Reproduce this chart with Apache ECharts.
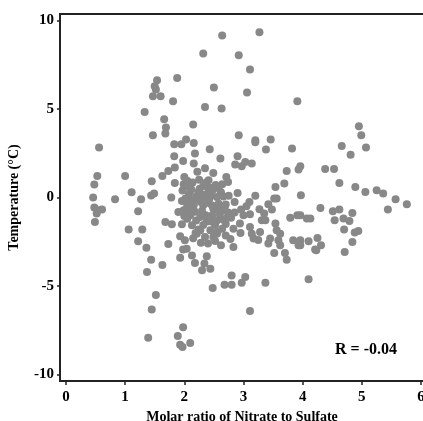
<!DOCTYPE html>
<html>
<head>
<meta charset="utf-8">
<script src="https://cdn.jsdelivr.net/npm/echarts@6/dist/echarts.min.js"></script>
<style>
html, body { margin: 0; padding: 0; background: #fff; }
#main { width: 423px; height: 421px; }
</style>
</head>
<body>
<div id="main"></div>
<script>
// molar ratio of nitrate to sulfate (x) and temperature in degC (y)
var ratio = [
	2.64, 3.27, 2.32, 2.92, 3.11, 1.54, 1.88, 2.50, 3.06, 3.91, 1.50, 1.52, 1.47, 1.60, 1.81, 2.35, 2.63, 1.33, 1.66, 2.15,
	1.69, 1.68, 1.47, 2.03, 2.92, 3.20, 3.46, 4.95, 4.99, 0.56, 1.83, 1.95, 1.83, 1.98, 1.84, 1.73, 1.63, 0.53, 1.00, 1.45,
	1.84, 1.99, 0.48, 1.11, 1.49, 1.44, 0.46, 0.83, 1.27, 1.78, 0.48, 0.54, 0.61, 0.52, 1.22, 0.49, 1.90, 1.99, 1.68, 1.79,
	1.06, 1.29, 1.93, 1.22, 1.36, 1.73, 1.98, 1.44, 1.63, 1.37, 1.93, 1.52, 1.45, 1.98, 1.89, 1.39, 1.93, 1.97, 2.10, 2.13,
	2.18, 2.38, 2.34, 2.30, 2.44, 3.52, 3.70, 3.73, 2.80, 2.68, 2.80, 2.48, 3.03, 2.97, 3.37, 4.10, 3.11, 4.23, 4.71, 4.66,
	5.07, 4.81, 3.96, 4.38, 4.53, 4.62, 4.89, 5.06, 5.25, 5.36, 5.57, 5.76, 5.44, 3.97, 4.30, 4.51, 4.62, 4.84, 3.96, 4.13,
	4.54, 4.69, 4.79, 4.70, 4.88, 4.94, 3.96, 4.10, 4.25, 4.31, 4.21, 4.84, 3.96, 3.20, 3.38, 3.82, 2.43, 2.16, 2.18, 2.16,
	2.61, 2.90, 2.86, 3.03, 3.14, 2.97, 3.73, 3.93, 2.49, 2.00, 2.71, 2.74, 2.41, 2.64, 3.69, 3.54, 2.05, 2.24, 2.49, 2.35,
	2.55, 3.10, 3.52, 3.56, 3.42, 3.27, 2.96, 3.11, 3.48, 1.96, 2.01, 2.16, 2.32, 2.49, 2.64, 2.10, 2.27, 2.47, 2.72, 2.79,
	2.94, 3.31, 3.37, 3.54, 3.79, 3.91, 4.07, 1.96, 2.13, 2.27, 2.44, 2.64, 2.83, 3.11, 3.14, 3.28, 3.56, 3.62, 2.01, 2.21,
	2.35, 2.49, 2.62, 2.83, 3.17, 3.45, 3.42, 3.59, 3.62, 3.84, 3.93, 2.04, 2.08, 2.12, 2.20, 2.28, 2.40, 2.45, 2.58, 2.70,
	2.75, 2.85, 2.90, 2.05, 2.18, 2.30, 2.38, 2.55, 2.60, 2.85, 2.20, 2.32, 2.52, 2.70, 2.15, 2.28, 2.40, 2.55, 2.70, 2.05,
	2.25, 2.32, 2.58, 2.22, 2.35, 2.05, 2.42, 2.62, 2.12, 2.52, 2.78, 2.95, 3.00, 3.05, 3.20, 3.25, 3.35, 1.97, 2.02, 2.07,
	2.14, 2.22, 2.26, 2.33, 2.37, 2.43, 2.47, 2.53, 2.57, 2.66, 2.68, 2.74, 2.00, 2.10, 2.24, 2.36, 2.46, 2.56, 2.66, 2.19,
	2.41
];
var temp = [
	9.15, 9.33, 8.13, 8.03, 7.23, 6.62, 6.75, 6.21, 5.93, 5.43, 6.28, 6.10, 5.72, 5.72, 5.43, 5.11, 5.02, 4.83, 4.42, 4.12,
	3.95, 3.61, 3.51, 3.27, 3.51, 3.23, 3.27, 4.02, 3.51, 2.82, 3.00, 3.00, 2.33, 2.06, 1.69, 1.50, 1.21, 1.21, 1.21, 0.92,
	0.82, 0.75, 0.73, 0.29, 0.22, 0.11, 0.00, -0.10, -0.10, 0.00, -0.57, -0.72, -0.68, -0.91, -0.78, -1.38, -0.82, -0.72, -1.38, -1.51,
	-1.80, -1.80, -2.19, -2.47, -2.83, -2.63, -2.94, -3.51, -3.81, -4.21, -3.40, -5.51, -6.32, -7.32, -7.82, -7.92, -8.31, -8.44, -8.22, -3.27,
	-3.70, -3.32, -3.73, -4.11, -4.02, -3.14, -3.14, -3.51, -4.40, -4.92, -4.92, -5.11, -4.49, -4.81, -4.81, -4.62, -6.41, -2.98, -3.08, 2.91,
	2.82, 2.42, 1.76, 1.61, 1.61, 0.82, 0.59, 0.31, 0.41, 0.22, -0.10, -0.38, -0.68, 0.12, -0.59, -0.78, -0.68, -0.87, -1.00, -1.19,
	-1.29, -1.19, -1.33, -1.80, -1.98, -1.89, -2.42, -2.47, -2.29, -2.70, -2.93, -2.51, -2.70, 3.12, 2.71, 2.76, 2.72, 3.08, 2.48, 1.92,
	2.20, 2.33, 1.86, 2.01, 1.92, 1.76, 1.50, 1.58, 1.38, 1.16, 1.16, 0.88, 0.97, 0.75, 0.79, 0.59, 0.69, 0.31, 0.45, 0.03,
	0.03, -0.25, -0.06, -0.06, -0.38, -0.67, -0.68, -0.95, -0.68, -0.20, -0.72, -0.44, -0.44, -0.63, -0.72, -1.00, -1.10, -1.00, -1.14, -1.14,
	-1.47, -1.29, -1.29, -1.47, -1.14, -1.00, -1.19, -1.51, -1.57, -1.85, -1.85, -1.76, -1.76, -1.66, -2.04, -1.95, -1.85, -2.04, -2.42, -2.04,
	-2.23, -2.23, -2.70, -2.80, -2.32, -2.32, -2.60, -2.42, -2.70, -2.42, -2.70, -2.89, 0.20, -0.15, 0.05, -0.25, -0.30, 0.15, -0.35, -0.40,
	0.10, -0.25, 0.25, -1.20, -0.80, -0.75, -1.35, -1.30, -0.95, -0.85, -1.30, -1.55, -1.55, -1.50, -2.30, -2.55, -2.60, -2.05, -2.15, 0.95,
	1.00, 0.65, 0.55, 1.45, 1.65, -0.45, -0.10, 0.30, 0.45, -2.45, -2.35, -2.00, -1.00, -0.50, 0.10, -2.40, -0.90, 0.40, -0.05, 0.60,
	0.85, -0.05, 0.50, 0.15, 0.85, 0.55, -0.45, 0.70, -0.70, 0.05, -0.55, -0.85, -1.05, -0.65, -1.80, -1.00, -1.35, -1.95, -1.25, -2.00,
	0.35
];
var xTicks = [0, 1, 2, 3, 4, 5, 6];
var yTicks = [-10, -5, 0, 5, 10];
var rLabel = 'R = -0.04';

var points = [];
for (var i = 0; i < ratio.length; i++) {
	points.push([ratio[i], temp[i]]);
}

var font = 'Liberation Serif, Times New Roman, serif';
var chart = echarts.init(document.getElementById('main'));

var option = {
	animation: false,
	grid: {
		left: 60,
		top: 14,
		width: 364,
		height: 367,
		containLabel: false,
		outerBoundsMode: 'none',
		show: true,
		borderColor: '#222',
		borderWidth: 2
	},
	xAxis: {
		type: 'value',
		min: -0.1,
		max: 6.05,
		name: 'Molar ratio of Nitrate to Sulfate',
		nameLocation: 'middle',
		nameGap: 22,
		nameTextStyle: { fontFamily: font, fontWeight: 'bold', fontSize: 14, color: '#000' },
		splitLine: { show: false },
		axisLine: { onZero: false, lineStyle: { color: '#222', width: 2 } },
		axisTick: { show: true, length: 4, customValues: xTicks, lineStyle: { color: '#222', width: 1.5 } },
		axisLabel: { customValues: xTicks, margin: 9, fontFamily: font, fontWeight: 'bold', fontSize: 15, color: '#000' }
	},
	yAxis: {
		type: 'value',
		min: -10.36,
		max: 10.36,
		name: 'Temperature (°C)',
		nameLocation: 'middle',
		nameGap: 39,
		nameTextStyle: { fontFamily: font, fontWeight: 'bold', fontSize: 14, color: '#000' },
		splitLine: { show: false },
		axisLine: { onZero: false, lineStyle: { color: '#222', width: 2 } },
		axisTick: { show: true, length: 3, customValues: yTicks, lineStyle: { color: '#222', width: 1.5 } },
		axisLabel: { customValues: yTicks, margin: 6, fontFamily: font, fontWeight: 'bold', fontSize: 15, color: '#000' }
	},
	series: [{
		type: 'scatter',
		data: points,
		symbolSize: 8,
		itemStyle: { color: '#888888', opacity: 1 }
	}],
	graphic: [{
		type: 'text',
		left: 335,
		top: 342,
		style: { text: rLabel, fontFamily: font, fontWeight: 'bold', fontSize: 16, fill: '#000' }
	}]
};
chart.setOption(option);
</script>
</body>
</html>
